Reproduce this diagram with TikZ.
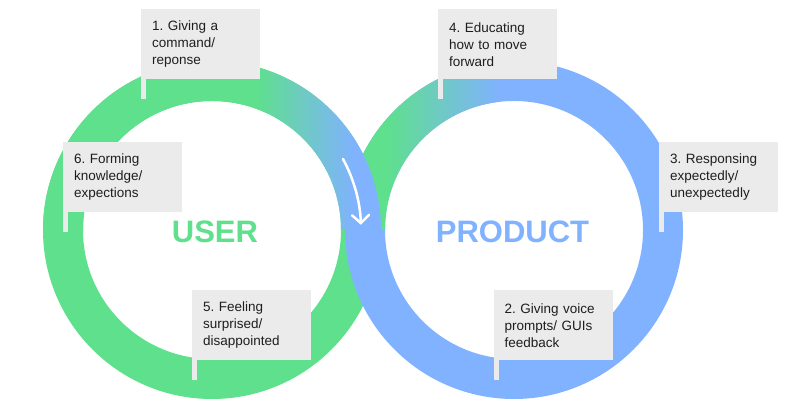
\documentclass[tikz,border=0pt]{standalone}
\usepackage{fontspec}
\setmainfont{Liberation Sans}
\frenchspacing
\usetikzlibrary{arrows.meta}
\definecolor{usergreen}{HTML}{5EE08C}
\definecolor{prodblue}{HTML}{80B2FF}
\definecolor{boxgrey}{HTML}{EBEBEB}
\definecolor{textdark}{HTML}{1E1E1E}

\begin{document}
\begin{tikzpicture}[
        x=1pt, y=1pt,
        callout/.style={fill=boxgrey, anchor=north west, text width=97pt, align=left,
            inner xsep=11pt, inner ysep=0pt, minimum height=70pt, text=textdark,
            font=\fontsize{13.5}{17}\selectfont},
        ringlabel/.style={anchor=base, font=\fontsize{31}{31}\selectfont\bfseries}
    ]
    \useasboundingbox (0,0) rectangle (800,414);
    \coordinate (user) at (212,184);
    \coordinate (product) at (514,184);

    % left ring, plain green
    \fill[usergreen, even odd rule] (user) circle[radius=169pt] (user) circle[radius=129pt];
    % right ring, green into blue on its upper left
    \begin{scope}[even odd rule]
        \clip (product) circle[radius=169pt] (product) circle[radius=129pt];
        \fill[prodblue] (340,10) rectangle (690,360);
        \fill[usergreen] (340,184) rectangle (385,360);
        \shade[left color=usergreen, right color=prodblue] (385,184) rectangle (500,360);
    \end{scope}
    % upper half of the left ring lies on top at the crossing
    \begin{scope}[even odd rule]
        \clip (30,184) rectangle (400,360);
        \clip (user) circle[radius=169pt] (user) circle[radius=129pt];
        \fill[usergreen] (40,184) rectangle (255,360);
        \shade[left color=usergreen, right color=prodblue] (255,184) rectangle (355,360);
        \fill[prodblue] (355,184) rectangle (390,360);
    \end{scope}

    \draw[white, line width=2.5pt, line cap=round,
        -{Straight Barb[length=8pt, width=17pt, line cap=round]}]
        (user) ++(28.5:149pt) arc[start angle=28.5, end angle=2, radius=149pt];

    \node[ringlabel, text=usergreen] (userlabel) at (215,171) {USER};
    \node[ringlabel, text=prodblue] (productlabel) at (512.5,171) {PRODUCT};

    \node[callout] (c1) at (141,405) {1. Giving a\\command/\\reponse};
    \fill[boxgrey] (c1.south west) rectangle ++(5,-20);
    \node[callout] (c2) at (493.5,124) {2. Giving voice\\prompts/ GUIs\\feedback};
    \fill[boxgrey] (c2.south west) rectangle ++(5,-20);
    \node[callout] (c3) at (659,272) {3. Responsing\\expectedly/\\unexpectedly};
    \fill[boxgrey] (c3.south west) rectangle ++(5,-20);
    \node[callout] (c4) at (438,405) {4. Educating\\how to move\\forward};
    \fill[boxgrey] (c4.south west) rectangle ++(5,-20);
    \node[callout] (c5) at (192,124) {5. Feeling\\surprised/\\disappointed};
    \fill[boxgrey] (c5.south west) rectangle ++(5,-20);
    \node[callout] (c6) at (63,272) {6. Forming\\knowledge/\\expections};
    \fill[boxgrey] (c6.south west) rectangle ++(5,-20);
\end{tikzpicture}
\end{document}
